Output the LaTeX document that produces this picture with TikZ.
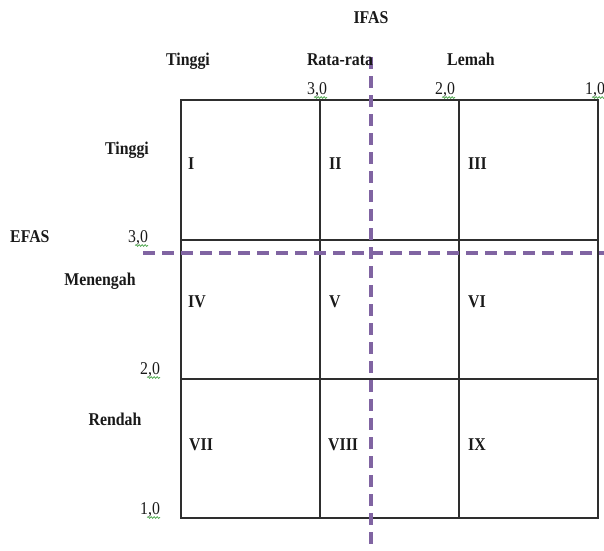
\documentclass[tikz,border=0pt]{standalone}
\usepackage{fontspec}
\setmainfont{Liberation Serif}[FakeStretch=0.88]
\usetikzlibrary{decorations.pathmorphing}
\definecolor{dashpurple}{HTML}{8064A2}
\definecolor{gridgray}{HTML}{2E2E2E}
\definecolor{spellgreen}{HTML}{4CA64C}
\tikzset{
  lbl/.style={inner sep=0pt, font=\fontsize{18}{20}\selectfont\bfseries, text=black!90},
  num/.style={inner sep=0pt, font=\fontsize{18}{20}\selectfont, text=black!90},
  roman/.style={inner sep=0pt, anchor=base west, font=\fontsize{18}{20}\selectfont\bfseries, text=black!90},
  gridline/.style={draw=gridgray, line width=1.3pt},
  divider/.style={draw=dashpurple, line width=4pt, dash pattern=on 12pt off 7pt},
  squig/.style={draw=spellgreen, line width=0.7pt, decorate, decoration={snake, segment length=3pt, amplitude=0.9pt}}
}
\begin{document}
\begin{tikzpicture}[x=1pt, y=-1pt]
\useasboundingbox (0,0) rectangle (604,550);
% grid
\coordinate (tl) at (181,100);
\coordinate (br) at (598,518);
\draw[gridline] (tl) rectangle (br);
\draw[gridline] (320,100) -- (320,518);
\draw[gridline] (459,100) -- (459,518);
\draw[gridline] (181,240) -- (598,240);
\draw[gridline] (181,379) -- (598,379);
% dashed dividers
\coordinate (vtop) at (371,57);
\coordinate (vbot) at (371,550);
\coordinate (hleft) at (143,253);
\coordinate (hright) at (604,253);
\draw[divider] (vtop) -- (vbot);
\draw[divider] (hleft) -- (hright);
% top labels
\node[lbl, anchor=base] (ifas) at (371,23) {IFAS};
\node[lbl, anchor=base] (ttop) at (188,65) {Tinggi};
\node[lbl, anchor=base] (rata) at (340,65) {Rata-rata};
\node[lbl, anchor=base] (lemah) at (471,65) {Lemah};
\node[num, anchor=base west] (n30t) at (307,94) {3,0};
\node[num, anchor=base west] (n20t) at (435,94) {2,0};
\node[num, anchor=base west] (n10t) at (585,94) {1,0};
% left labels
\node[lbl, anchor=base] (tleft) at (127,154) {Tinggi};
\node[lbl, anchor=base west] (efas) at (10,242) {EFAS};
\node[num, anchor=base west] (n30l) at (128,242) {3,0};
\node[lbl, anchor=base] (men) at (100,285) {Menengah};
\node[num, anchor=base west] (n20l) at (140,374) {2,0};
\node[lbl, anchor=base] (ren) at (115,425) {Rendah};
\node[num, anchor=base west] (n10l) at (140,514) {1,0};
% squiggles
\foreach \n in {n30t,n20t,n10t,n30l,n20l,n10l}{
  \draw[squig] ([xshift=-13pt,yshift=-3.5pt]\n.base east) -- ([yshift=-3.5pt]\n.base east);
}
% roman numerals
\node[roman] (c1) at (188,169) {I};
\node[roman] (c2) at (329,169) {II};
\node[roman] (c3) at (468,169) {III};
\node[roman] (c4) at (188,307) {IV};
\node[roman] (c5) at (329,307) {V};
\node[roman] (c6) at (468,307) {VI};
\node[roman] (c7) at (189,450) {VII};
\node[roman] (c8) at (328,450) {VIII};
\node[roman] (c9) at (468,450) {IX};
\end{tikzpicture}
\end{document}
